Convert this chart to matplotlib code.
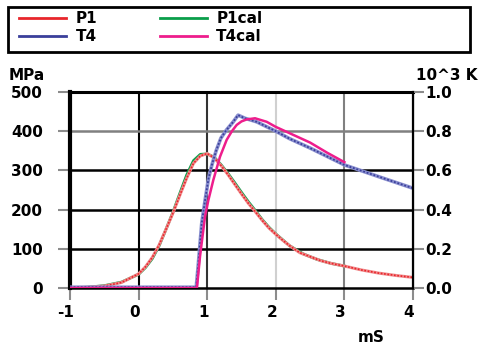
import matplotlib.pyplot as plt
import matplotlib.transforms as mtransforms
from matplotlib.patches import Rectangle
from matplotlib.lines import Line2D

plt.rcParams['font.family'] = ['DejaVu Sans']
plt.rcParams['font.weight'] = 'bold'
plt.rcParams['font.size'] = 11
plt.rcParams['axes.unicode_minus'] = False

# P1 measured pressure (MPa)
p1_t = [-1.0, -0.75, -0.5, -0.25, 0.0, 0.1, 0.2, 0.3, 0.4, 0.5, 0.6, 0.7, 0.8, 0.9, 1.0,
        1.1, 1.2, 1.3, 1.4, 1.5, 1.6, 1.7, 1.8, 1.9, 2.0, 2.1, 2.2, 2.35, 2.5, 2.65, 2.8,
        3.0, 3.25, 3.5, 3.75, 4.0]
p1_v = [1, 2, 5, 14, 36, 54, 78, 110, 150, 191, 236, 280, 318, 337, 343,
        332, 313, 290, 265, 240, 216, 195, 173, 153, 137, 122, 108, 90, 80, 70, 63,
        56, 46, 38, 32, 27]

# P1cal fitted pressure (MPa)
p1cal_t = [-1.0, -0.75, -0.5, -0.25, 0.0, 0.1, 0.2, 0.3, 0.4, 0.5, 0.6, 0.7, 0.8, 0.9, 1.0,
           1.1, 1.2, 1.3, 1.4, 1.5, 1.6, 1.7, 1.8, 1.9, 2.0, 2.2, 2.4, 2.6, 2.8, 3.0]
p1cal_v = [0, 2, 6, 15, 35, 52, 75, 108, 150, 193, 241, 288, 325, 341, 342,
           334, 315, 293, 269, 244, 220, 198, 175, 155, 138, 108, 87, 73, 63, 56]

# T4 measured temperature (10^3 K)
t4_t = [-1.0, 0.0, 0.84, 0.87, 0.92, 0.97, 1.02, 1.07, 1.13, 1.2, 1.28, 1.38, 1.45, 1.55,
        1.72, 2.0, 2.2, 2.5, 3.0, 3.5, 4.0]
t4_v = [0.004, 0.004, 0.004, 0.12, 0.33, 0.45, 0.56, 0.63, 0.70, 0.765, 0.806, 0.848, 0.882, 0.866,
        0.848, 0.80, 0.762, 0.714, 0.628, 0.568, 0.509]

# T4cal fitted temperature (10^3 K)
t4cal_t = [-1.0, 0.85, 0.895, 0.968, 1.017, 1.09, 1.187, 1.284, 1.36, 1.43, 1.5, 1.575, 1.697,
           1.867, 2.0, 2.2, 2.5, 2.75, 3.0]
t4cal_v = [0.0, 0.0, 0.16, 0.364, 0.448, 0.552, 0.67, 0.756, 0.80, 0.832, 0.85, 0.86, 0.866,
           0.848, 0.822, 0.79, 0.742, 0.69, 0.642]

red = '#e8262b'
green = '#0a9e4a'
blue = '#3a3f9a'
pink = '#ee1d8c'

fig = plt.figure(figsize=(4.8, 3.47), dpi=100)
ax = fig.add_axes([70 / 480, 59 / 347, 343 / 480, 196 / 347])
ax2 = ax.twinx()

# grid lines, colours differ per line as in the original
for x, c in [(0, 'black'), (1, '#333333'), (2, '#d0d0d0'), (3, '#808080')]:
    ax.axvline(x, color=c, lw=1.5, zorder=0)
for y, c in [(100, 'black'), (200, 'black'), (300, 'black'), (400, '#808080')]:
    ax.axhline(y, color=c, lw=1.8, zorder=0)

ax.plot(p1cal_t, p1cal_v, color=green, lw=2.0, zorder=2)
ax.plot(p1_t, p1_v, color='#f08a8c', lw=2.2, zorder=3)
ax.plot(p1_t, p1_v, color=red, lw=1.2, ls=(0, (1, 1)), zorder=3)
ax2.plot(t4_t, t4_v, color='#8a8fcf', lw=2.6, zorder=2)
ax2.plot(t4_t, t4_v, color=blue, lw=1.3, ls=(0, (1, 1)), zorder=2)
ax2.plot(t4cal_t, t4cal_v, color=pink, lw=1.8, zorder=3)

ax.set_xlim(-1, 4)
ax.set_ylim(0, 500)
ax2.set_ylim(0, 1.0)
ax.set_xticks([-1, 0, 1, 2, 3, 4])
ax.set_yticks([0, 100, 200, 300, 400, 500])
ax2.set_yticks([0.0, 0.2, 0.4, 0.6, 0.8, 1.0])
ax2.set_yticklabels(['0.0', '0.2', '0.4', '0.6', '0.8', '1.0'])

ax.tick_params(axis='both', direction='out', length=8.5, width=1.5, color='#8c8c8c')
ax.tick_params(axis='y', pad=11)
ax.tick_params(axis='x', pad=4)
ax2.tick_params(axis='y', direction='out', length=8, width=1.5, color='#8c8c8c', pad=1)

offset = mtransforms.ScaledTranslation(-4 / 100, 0, fig.dpi_scale_trans)
for lab in ax.get_xticklabels():
    lab.set_transform(lab.get_transform() + offset)

ax.spines['left'].set_linewidth(3)
ax.spines['top'].set_linewidth(2.2)
ax.spines['bottom'].set_linewidth(1.8)
ax2.spines['right'].set_linewidth(1.6)
for s in ax2.spines.values():
    s.set_visible(False)
ax2.spines['right'].set_visible(True)

fig.text(9 / 480, 1 - 75.5 / 347, 'MPa', ha='left', va='center')
fig.text(478 / 480, 1 - 76 / 347, '10^3 K', ha='right', va='center')
fig.text(371 / 480, 1 - 337 / 347, 'mS', ha='center', va='center')

# legend box across the top
fig.add_artist(Rectangle((7.5 / 480, 1 - 52 / 347), 462.5 / 480, 45 / 347,
                         transform=fig.transFigure, fill=False, ec='black', lw=2))
handles = [Line2D([], [], color=red, lw=2), Line2D([], [], color=blue, lw=2),
           Line2D([], [], color=green, lw=2), Line2D([], [], color=pink, lw=2)]
labels = ['P1', 'T4', 'P1cal', 'T4cal']
fig.legend(handles, labels, ncol=2, loc='upper left', bbox_to_anchor=(19 / 480, 1 - 11 / 347),
           frameon=False, handlelength=3.1, handletextpad=0.6, columnspacing=4.1,
           labelspacing=0.2, borderpad=0, borderaxespad=0)

fig.savefig('out.png', dpi=100)
